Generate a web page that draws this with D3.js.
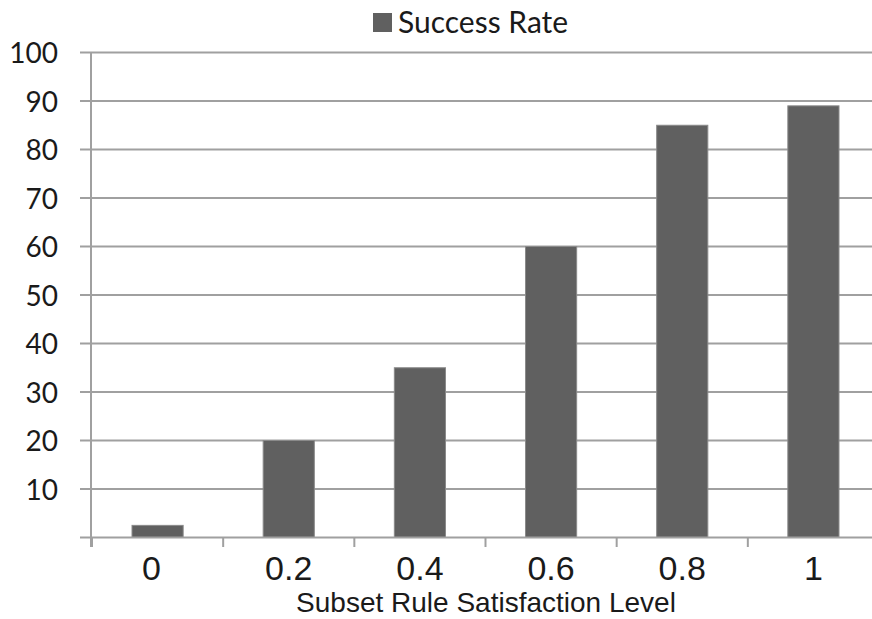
<!DOCTYPE html>
<html><head><meta charset="utf-8">
<script src="https://cdn.jsdelivr.net/npm/d3@7"></script>
<style>body{margin:0;background:#fff}svg{display:block}</style>
</head><body>
<script>
const categories = ["0", "0.2", "0.4", "0.6", "0.8", "1"];
const successRate = [2.5, 20, 35, 60, 85, 89];
const yTicks = [10, 20, 30, 40, 50, 60, 70, 80, 90, 100];
const seriesName = "Success Rate";
const xTitle = "Subset Rule Satisfaction Level";

const W = 872, H = 619;
const svg = d3.select("body").append("svg").attr("width", W).attr("height", H);
const x = d3.scaleBand().domain(categories).range([92, 879]).paddingInner(0.61).paddingOuter(0.305);
const y = d3.scaleLinear().domain([0, 100]).range([537.5, 52.5]);
const grid = "#a0a0a0";

// gridlines
svg.append("g").selectAll("line").data(yTicks).join("line")
  .attr("x1", 80).attr("x2", W).attr("y1", d => y(d)).attr("y2", d => y(d))
  .attr("stroke", grid).attr("stroke-width", 2);

// y axis labels
const yAxis = d3.axisLeft(y).tickValues(yTicks).tickSize(0).tickPadding(0);
const ya = svg.append("g").attr("transform", "translate(58,0)").call(yAxis);
ya.select(".domain").remove();
ya.selectAll("text").attr("font-family", "Lato, 'Open Sans', sans-serif").attr("font-size", 28).attr("fill", "#1a1a1a").attr("dy", "0.36em");

// bars
svg.append("g").selectAll("rect").data(categories).join("rect")
  .attr("x", d => x(d)).attr("width", x.bandwidth())
  .attr("y", (d, i) => y(successRate[i])).attr("height", (d, i) => y(0) - y(successRate[i]))
  .attr("fill", "#606060").attr("stroke", "#8a8a8a").attr("stroke-width", 1);

// y axis line
svg.append("line").attr("x1", 91).attr("x2", 91).attr("y1", 52).attr("y2", 547).attr("stroke", grid).attr("stroke-width", 2);
// x axis line
svg.append("line").attr("x1", 80).attr("x2", W).attr("y1", y(0)).attr("y2", y(0)).attr("stroke", grid).attr("stroke-width", 2);
// x ticks at category boundaries
const step = x.step();
svg.append("g").selectAll("line").data(categories).join("line")
  .attr("x1", d => x(d) - (step - x.bandwidth()) / 2).attr("x2", d => x(d) - (step - x.bandwidth()) / 2)
  .attr("y1", y(0)).attr("y2", 547).attr("stroke", grid).attr("stroke-width", 2);

// x labels
svg.append("g").selectAll("text").data(categories).join("text")
  .attr("x", (d, i) => x(d) + x.bandwidth() / 2 - (i === 0 ? 6 : 0)).attr("y", 580)
  .attr("text-anchor", "middle").attr("font-family", "'Liberation Sans', Arial, sans-serif")
  .attr("font-size", 34).attr("fill", "#1a1a1a").text(d => d);

// x title
svg.append("text").attr("x", 486).attr("y", 612).attr("text-anchor", "middle")
  .attr("font-family", "'Liberation Sans', Arial, sans-serif").attr("font-size", 28).attr("fill", "#1a1a1a").text(xTitle);

// legend
svg.append("rect").attr("x", 373).attr("y", 13).attr("width", 19).attr("height", 19).attr("fill", "#606060");
svg.append("text").attr("x", 398).attr("y", 33).attr("font-family", "Lato, 'Open Sans', sans-serif")
  .attr("font-size", 30).attr("fill", "#1a1a1a").text(seriesName);
</script>
</body></html>
